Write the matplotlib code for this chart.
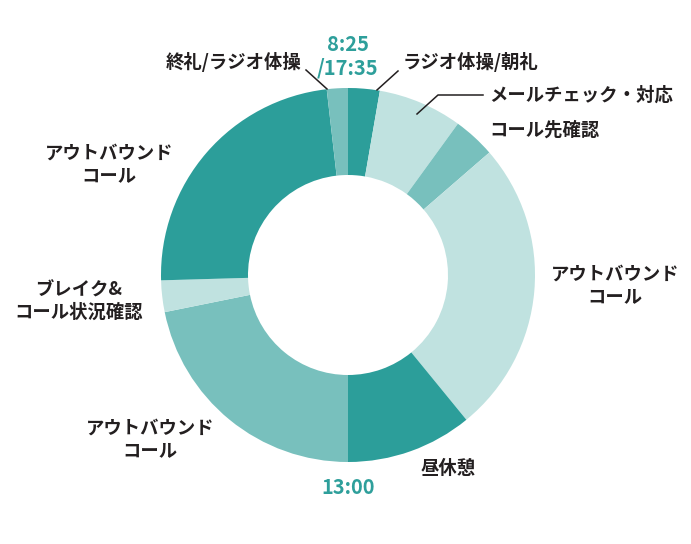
import numpy as np
import matplotlib
matplotlib.use("Agg")
from matplotlib import pyplot as plt

plt.rcParams['font.family'] = ['Noto Sans CJK JP', 'DejaVu Sans']

### schedule 8:25 - 17:35, minutes per block (clockwise from top)
labels = ["ラジオ体操/朝礼", "メールチェック・対応", "コール先確認",
          "アウトバウンド\nコール", "昼休憩", "アウトバウンド\nコール",
          "ブレイク&\nコール状況確認", "アウトバウンド\nコール", "終礼/ラジオ体操"]
minutes = [15, 40, 20, 140, 60, 120, 15, 130, 10]
shade = ["dark", "light", "mid", "light", "dark", "mid", "light", "dark", "mid"]
time_labels = ["8:25\n/17:35", "13:00"]

palette = {"dark": "#2c9e9a", "mid": "#78c0bd", "light": "#c0e2e0"}
ink = "#231f20"
teal_txt = "#2e9f9b"

W, H = 691, 544
fig = plt.figure(figsize=(W / 100, H / 100), dpi=100)
ax = fig.add_axes([0, 0, 1, 1])
ax.set_xlim(0, W)
ax.set_ylim(0, H)
ax.set_aspect("equal")
ax.axis("off")

cx, cy = 348, H - 275
r_out, r_in = 187, 100
ax.pie(minutes, colors=[palette[s] for s in shade], startangle=90,
       counterclock=False, radius=r_out, center=(cx, cy),
       wedgeprops=dict(width=r_out - r_in, linewidth=0))
ax.set_xlim(0, W)
ax.set_ylim(0, H)

### label placement (pixel coords from top-left), one per block
label_pos = [(403, 62, "left"), (489, 95, "left"), (489, 130, "left"),
             (615, 285, "center"), (448, 468, "center"), (150, 439, "center"),
             (79, 301, "center"), (109, 164, "center"), (301, 62, "right")]

for lab, (x, y, ha) in zip(labels, label_pos):
    ax.text(x, H - y, lab, ha=ha, va="center", fontsize=13.2,
            fontweight="bold", color=ink, linespacing=1.25)

ax.text(348, H - 56, time_labels[0], ha="center", va="center",
        fontsize=14.5, fontweight="bold", color=teal_txt, linespacing=1.15)
ax.text(348, H - 487, time_labels[1], ha="center", va="center",
        fontsize=14.3, fontweight="bold", color=teal_txt)

### leader lines
leaders = [[(398, 71), (377, 90)],
           [(483, 95), (438, 95), (417, 114)],
           [(306, 70), (327, 89)]]
for pts in leaders:
    xs = [p[0] for p in pts]
    ys = [H - p[1] for p in pts]
    ax.plot(xs, ys, color=ink, linewidth=1.1)

fig.savefig("out.png", dpi=100)
